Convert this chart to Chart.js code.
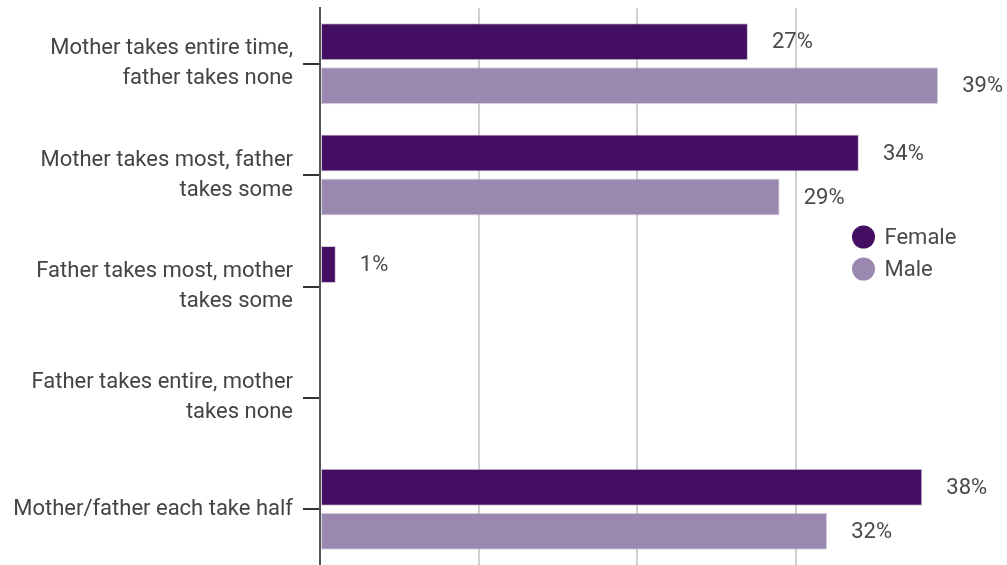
<!DOCTYPE html>
<html><head><meta charset="utf-8">
<script src="https://cdn.jsdelivr.net/npm/chart.js@4"></script>
<style>html,body{margin:0;padding:0;background:#fff}#wrap{width:1007px;height:565px}</style>
</head><body><div id="wrap"><canvas id="c"></canvas></div>
<script>
const categories = [
  ["Mother takes entire time,", "father takes none"],
  ["Mother takes most, father", "takes some"],
  ["Father takes most, mother", "takes some"],
  ["Father takes entire, mother", "takes none"],
  ["Mother/father each take half"]
];
const seriesNames = ["Female", "Male"];
const femaleValues = [27, 34, 1, 0, 38];
const maleValues = [39, 29, 0, 0, 32];
const seriesColors = ["#440e62", "#9b88b1"];
const xMax = 40;

const FONT = "Roboto, 'Noto Sans', sans-serif";

const valueLabels = {
  id: 'valueLabels',
  afterDatasetsDraw(chart) {
    const ctx = chart.ctx;
    ctx.save();
    ctx.font = "22px " + FONT;
    ctx.fillStyle = "#4a4a4a";
    ctx.textAlign = "left";
    ctx.textBaseline = "middle";
    chart.data.datasets.forEach((ds, i) => {
      const meta = chart.getDatasetMeta(i);
      meta.data.forEach((bar, j) => {
        const v = ds.data[j];
        if (!v) return;
        ctx.fillText(v + "%", bar.x + 24, bar.y + 1);
      });
    });
    ctx.restore();
  }
};

const customLegend = {
  id: 'customLegend',
  afterDraw(chart) {
    const ctx = chart.ctx;
    ctx.save();
    ctx.font = "22px " + FONT;
    ctx.textBaseline = "middle";
    ctx.textAlign = "left";
    const x = 863.5, y0 = 237, dy = 32;
    seriesNames.forEach((n, i) => {
      ctx.beginPath();
      ctx.arc(x, y0 + i * dy, 11.5, 0, Math.PI * 2);
      ctx.fillStyle = seriesColors[i];
      ctx.fill();
      ctx.fillStyle = "#4a4a4a";
      ctx.fillText(n, x + 21, y0 + i * dy + 1);
    });
    ctx.restore();
  }
};

new Chart(document.getElementById('c'), {
  type: 'bar',
  data: {
    labels: categories,
    datasets: [
      { label: seriesNames[0], data: femaleValues, backgroundColor: seriesColors[0], borderColor: 'rgba(190,180,200,0.7)', borderWidth: 1, borderSkipped: false },
      { label: seriesNames[1], data: maleValues, backgroundColor: seriesColors[1], borderColor: 'rgba(200,195,210,0.7)', borderWidth: 1, borderSkipped: false }
    ]
  },
  options: {
    indexAxis: 'y',
    responsive: true,
    maintainAspectRatio: false,
    animation: false,
    layout: { padding: { top: 8, right: 53, bottom: 0, left: 0 } },
    categoryPercentage: 0.79,
    barPercentage: 0.84,
    plugins: { legend: { display: false }, tooltip: { enabled: false } },
    scales: {
      x: {
        min: 0, max: xMax,
        afterFit(scale) { scale.height = 0; scale.paddingLeft = 0; scale.paddingRight = 0; scale.paddingTop = 0; scale.paddingBottom = 0; },
        ticks: { display: false, stepSize: 10 },
        border: { display: false },
        grid: {
          drawTicks: false,
          lineWidth: 2,
          color: (c) => (c.tick && c.tick.value === xMax) ? 'rgba(0,0,0,0)' : '#cfcfcf'
        }
      },
      y: {
        afterFit(scale) { scale.width = 320; scale.paddingTop = 0; scale.paddingBottom = 0; scale.paddingLeft = 0; scale.paddingRight = 0; },
        border: { display: true, color: '#555', width: 2 },
        grid: { offset: false, drawOnChartArea: false, drawTicks: true, tickLength: 17, color: '#333', lineWidth: 2 },
        ticks: { color: '#444', font: { family: FONT, size: 22, lineHeight: 1.36 }, padding: 10 }
      }
    }
  },
  plugins: [valueLabels, customLegend]
});
</script>
</body></html>
